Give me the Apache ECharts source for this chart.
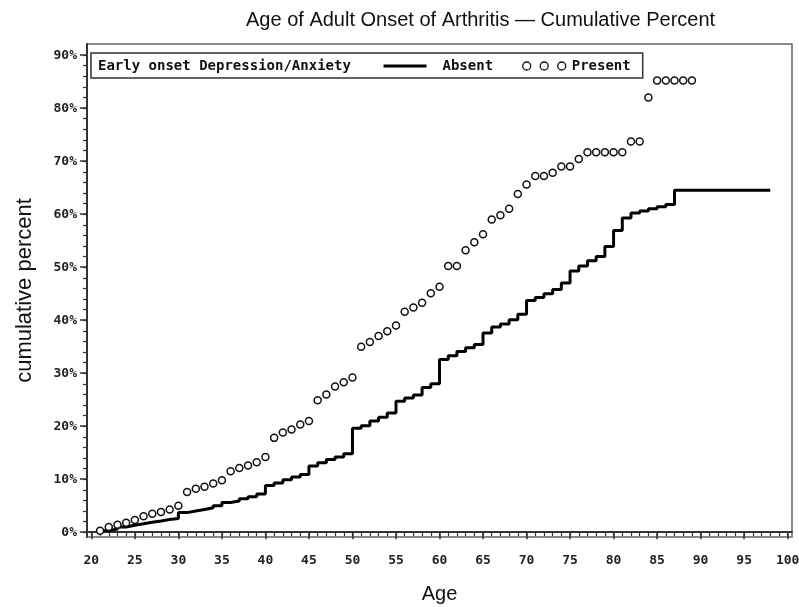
<!DOCTYPE html>
<html><head><meta charset="utf-8">
<script src="https://cdn.jsdelivr.net/npm/echarts@6/dist/echarts.min.js"></script>
<style>html,body{margin:0;padding:0;background:#fff}#c{width:799px;height:607px}</style>
</head><body><div id="c"></div>
<script>
// ---- Data ----
const absentAges = [21,22,23,24,25,26,27,28,29,30,31,32,33,34,35,36,37,38,39,40,41,42,43,44,45,46,47,48,49,50,51,52,53,54,55,56,57,58,59,60,61,62,63,64,65,66,67,68,69,70,71,72,73,74,75,76,77,78,79,80,81,82,83,84,85,86,87,98];
const absentPct = [0.3,0.6,1.0,1.3,1.6,1.9,2.1,2.4,2.6,3.7,4.0,4.3,4.6,5.0,5.6,5.9,6.3,6.7,7.2,8.8,9.3,9.9,10.4,10.9,12.5,13.1,13.7,14.2,14.8,19.6,20.1,21.0,21.7,22.5,24.7,25.3,25.9,27.3,28.0,32.6,33.3,34.1,34.8,35.4,37.6,38.7,39.3,40.1,41.1,43.7,44.3,45.0,45.8,47.0,49.3,50.2,51.2,52.0,53.9,56.9,59.3,60.2,60.6,61.0,61.4,61.8,64.5,64.5];
const presentAges = [21,22,23,24,25,26,27,28,29,30,31,32,33,34,35,36,37,38,39,40,41,42,43,44,45,46,47,48,49,50,51,52,53,54,55,56,57,58,59,60,61,62,63,64,65,66,67,68,69,70,71,72,73,74,75,76,77,78,79,80,81,82,83,84,85,86,87,88,89];
const presentPct = [0.3,1.0,1.4,1.8,2.3,3.0,3.5,3.8,4.3,5.0,7.6,8.2,8.6,9.2,9.8,11.5,12.1,12.6,13.2,14.2,17.8,18.8,19.4,20.3,21.0,24.9,26.0,27.5,28.3,29.2,35.0,35.9,37.0,37.9,39.0,41.6,42.4,43.3,45.1,46.3,50.2,50.2,53.2,54.7,56.2,59.0,59.8,61.0,63.8,65.6,67.2,67.2,67.8,69.0,69.0,70.4,71.7,71.7,71.7,71.7,71.7,73.7,73.7,82.0,85.2,85.2,85.2,85.2,85.2];
const xMajorTicks = [20,25,30,35,40,45,50,55,60,65,70,75,80,85,90,95,100];
const xMinorTicks = [20,21,22,23,24,25,26,27,28,29,30,31,32,33,34,35,36,37,38,39,40,41,42,43,44,45,46,47,48,49,50,51,52,53,54,55,56,57,58,59,60,61,62,63,64,65,66,67,68,69,70,71,72,73,74,75,76,77,78,79,80,81,82,83,84,85,86,87,88,89,90,91,92,93,94,95,96,97,98,99,100];
const yMajorTicks = [0,10,20,30,40,50,60,70,80,90];
const yMinorTicks = [0,2,4,6,8,10,12,14,16,18,20,22,24,26,28,30,32,34,36,38,40,42,44,46,48,50,52,54,56,58,60,62,64,66,68,70,72,74,76,78,80,82,84,86,88,90];
const titleText = 'Age of Adult Onset of Arthritis \u2014 Cumulative Percent';
const legendTitle = 'Early onset Depression/Anxiety';
const seriesNames = ['Absent', 'Present'];

const absentData = absentAges.map((a, i) => [a, absentPct[i]]);
const presentData = presentAges.map((a, i) => [a, presentPct[i]]);

const monoFont = 'DejaVu Sans Mono';
const axisColor = '#333';

const chart = echarts.init(document.getElementById('c'), null, {renderer: 'canvas'});
chart.setOption({
  backgroundColor: '#fff',
  animation: false,
  title: {
    text: titleText, left: 241, top: 5,
    textStyle: {fontFamily: 'Liberation Sans', fontWeight: 'normal', fontSize: 20, color: '#111'}
  },
  grid: {left: 87, right: 7, top: 44, bottom: 70, show: true, borderColor: '#666', borderWidth: 1.5,
         containLabel: false, outerBoundsMode: 'none'},
  legend: {
    left: 91, top: 53, orient: 'horizontal',
    padding: [6, 12, 5, 291], itemGap: 29, itemWidth: 43, itemHeight: 8,
    borderColor: '#333', borderWidth: 1.5,
    textStyle: {fontFamily: monoFont, fontWeight: 'bold', fontSize: 14, color: '#111', padding: [0, 0, 0, 11]},
    data: [
      {name: seriesNames[0], itemStyle: {opacity: 0}, lineStyle: {width: 3, color: '#000'}},
      {name: seriesNames[1], icon: 'path://M0,4a4,4 0 1,0 8,0a4,4 0 1,0 -8,0M17.5,4a4,4 0 1,0 8,0a4,4 0 1,0 -8,0M35,4a4,4 0 1,0 8,0a4,4 0 1,0 -8,0',
       itemStyle: {color: '#fff', borderColor: '#111', borderWidth: 1.3},
       textStyle: {padding: [0, 0, 0, 1]}}
    ]
  },
  graphic: [{
    type: 'text', left: 98, top: 59,
    style: {text: legendTitle, font: 'bold 14px "DejaVu Sans Mono"', fill: '#111'}
  }],
  xAxis: [
    {
      type: 'value', min: 19.5, max: 100.5, position: 'bottom',
      axisLine: {show: true, lineStyle: {color: axisColor, width: 2}},
      axisTick: {show: true, customValues: xMajorTicks, length: 7, lineStyle: {color: axisColor, width: 1.5}},
      axisLabel: {customValues: xMajorTicks, fontFamily: monoFont, fontWeight: 'bold', fontSize: 13, color: '#222', margin: 17},
      splitLine: {show: false},
      name: 'Age', nameLocation: 'middle', nameGap: 47,
      nameTextStyle: {fontFamily: 'Liberation Sans', fontSize: 20, color: '#111'}
    },
    {
      type: 'value', min: 19.5, max: 100.5, position: 'bottom',
      axisLine: {show: false},
      axisTick: {show: true, customValues: xMinorTicks, length: 4, lineStyle: {color: axisColor, width: 1.2}},
      axisLabel: {show: false}, splitLine: {show: false}
    }
  ],
  yAxis: [
    {
      type: 'value', min: -0.9, max: 92.1, position: 'left',
      axisLine: {show: true, lineStyle: {color: axisColor, width: 2}},
      axisTick: {show: true, customValues: yMajorTicks, length: 7, lineStyle: {color: axisColor, width: 1.5}},
      axisLabel: {customValues: yMajorTicks, formatter: '{value}%', fontFamily: monoFont, fontWeight: 'bold', fontSize: 13, color: '#222', margin: 10},
      splitLine: {show: false},
      name: 'cumulative percent', nameLocation: 'middle', nameGap: 51,
      nameTextStyle: {fontFamily: 'Liberation Sans', fontSize: 22, color: '#111'}
    },
    {
      type: 'value', min: -0.9, max: 92.1, position: 'left',
      axisLine: {show: false},
      axisTick: {show: true, customValues: yMinorTicks, length: 4, lineStyle: {color: axisColor, width: 1.2}},
      axisLabel: {show: false}, splitLine: {show: false}
    }
  ],
  series: [
    {
      name: seriesNames[0], type: 'line', step: 'end', data: absentData,
      xAxisIndex: 0, yAxisIndex: 0, symbol: 'none', showSymbol: false,
      lineStyle: {color: '#000', width: 3}, itemStyle: {color: '#000'}, z: 3
    },
    {
      name: seriesNames[1], type: 'scatter', data: presentData,
      xAxisIndex: 0, yAxisIndex: 0, symbol: 'circle', symbolSize: 7,
      itemStyle: {color: '#fff', borderColor: '#111', borderWidth: 1.5, opacity: 1}, z: 4
    }
  ]
});
</script>
</body></html>
